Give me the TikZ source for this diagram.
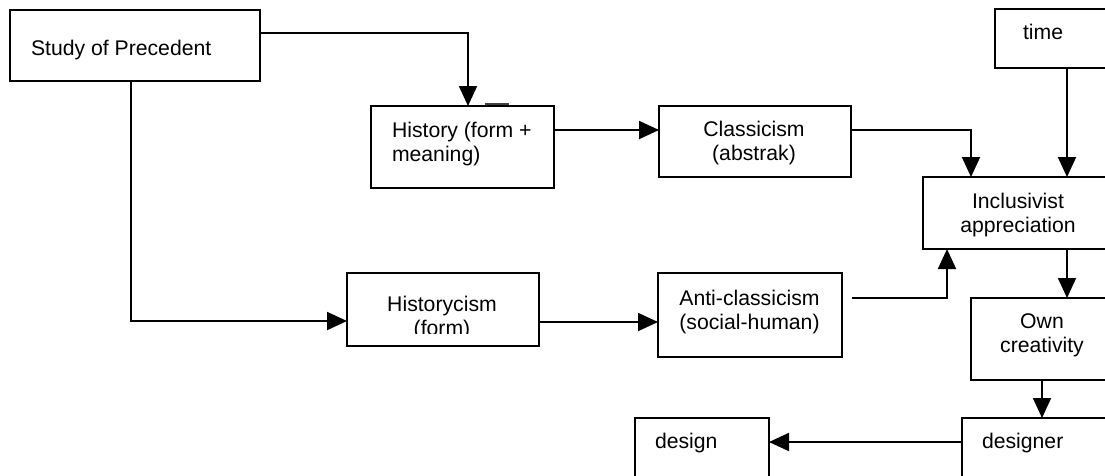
\documentclass[tikz,border=0pt]{standalone}
\usepackage{fontspec}
\setmainfont{Liberation Sans}
\usetikzlibrary{arrows.meta}
\begin{document}
\begin{tikzpicture}[x=1pt,y=-1pt,
  boxn/.style={draw, line width=1.9pt, inner sep=0pt, outer sep=0pt, anchor=north west, rectangle},
  txt/.style={inner sep=0pt, outer sep=0pt, font=\fontsize{21.2}{24}\selectfont},
  arr/.style={line width=1.9pt, -{Triangle[length=20pt,width=18pt]}},
  ln/.style={line width=1.9pt}]
\useasboundingbox (0,0) rectangle (1105,475);
\clip (0,0) rectangle (1105,475);
% boxes
\node[boxn, minimum width=250pt, minimum height=71pt] (study) at (10,10) {};
\node[boxn, minimum width=183pt, minimum height=82pt] (hist) at (371,106) {};
\node[boxn, minimum width=192pt, minimum height=71pt] (class) at (659,106) {};
\node[boxn, minimum width=192pt, minimum height=73pt] (histc) at (347,273) {};
\node[boxn, minimum width=184pt, minimum height=84pt] (anti) at (658,273) {};
\node[boxn, minimum width=144pt, minimum height=59pt] (time) at (995,9) {};
\node[boxn, minimum width=190pt, minimum height=72pt] (incl) at (923,177) {};
\node[boxn, minimum width=142pt, minimum height=82pt] (own) at (971,298) {};
\node[boxn, minimum width=151pt, minimum height=82pt] (designer) at (962,418) {};
\node[boxn, minimum width=134pt, minimum height=82pt] (design) at (635,418) {};
% texts
\node[txt, anchor=base west] (tstudy) at (31,55) {Study of Precedent};
\node[txt, anchor=base west, align=left] (thist) at (392,161) {History (form +\\meaning)};
\node[txt, anchor=base, align=center] (tclass) at (754,160) {Classicism\\(abstrak)};
\begin{scope}
\clip (347,273) rectangle (539,333);
\node[txt, anchor=base, align=center] (thistc) at (442,335) {Historycism\\(form)};
\end{scope}
\node[txt, anchor=base, align=center] (tanti) at (749.5,329) {Anti-classicism\\(social-human)};
\node[txt, anchor=base west] (ttime) at (1023,39) {time};
\node[txt, anchor=base, align=center] (tincl) at (1018,232) {Inclusivist\\appreciation};
\node[txt, anchor=base, align=center] (town) at (1042,352) {Own\\creativity};
\node[txt, anchor=base west] (tdesigner) at (982,448) {designer};
\node[txt, anchor=base west] (tdesign) at (655,448) {design};
% stray mark above History box
\draw[line width=1.4pt, black!75] ([xshift=114pt,yshift=2pt]hist.north west) -- ([xshift=138pt,yshift=2pt]hist.north west);
% connectors
\draw[arr] ([yshift=12.5pt]study.east) -| ([xshift=5.5pt]hist.north);
\draw[arr] ([xshift=-4pt]study.south) |- ([yshift=-11.5pt]histc.west);
\draw[arr] ([yshift=17pt]hist.east) -- ([yshift=17pt]hist.east -| class.west);
\draw[arr] ([yshift=11.5pt]class.east) -| ([xshift=-47pt]incl.north);
\draw[arr] (time.south) -- (time.south |- incl.north);
\draw[arr] ([yshift=-12.5pt]histc.east) -- ([yshift=-12.5pt]histc.east -| anti.west);
\draw[arr] ([xshift=10pt,yshift=17pt]anti.east) -| ([xshift=-71pt]incl.south);
\draw[arr] ([xshift=49pt]incl.south) -- ([xshift=49pt]incl.south |- own.north);
\draw[arr] (own.south) -- (own.south |- designer.north);
\draw[arr] ([yshift=17pt]designer.west) -- ([yshift=17pt]designer.west -| design.east);
\end{tikzpicture}
\end{document}
